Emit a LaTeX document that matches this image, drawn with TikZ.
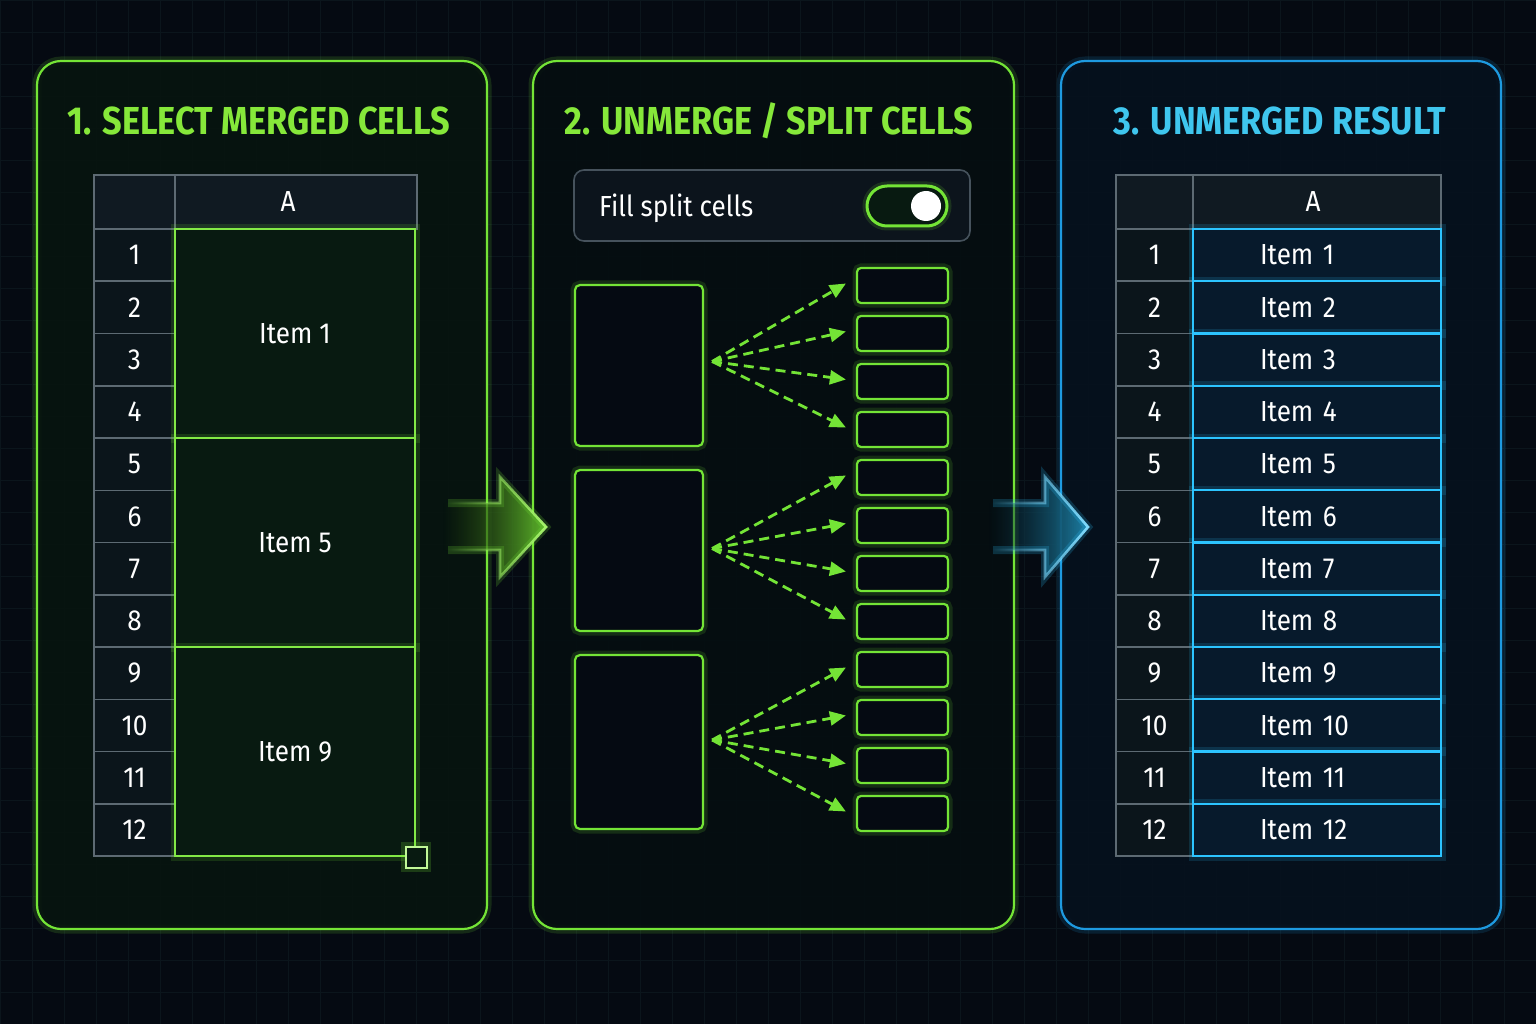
\documentclass[tikz,border=0pt]{standalone}
\usepackage{fontspec}
\setmainfont{Fira Sans}[FakeStretch=0.9]
\newfontfamily\headfont{Fira Sans}[FakeStretch=0.88]
\usetikzlibrary{arrows.meta,fadings}
\definecolor{bgdark}{HTML}{050A12}
\definecolor{gridcol}{HTML}{0B151C}
\definecolor{panelgreen}{HTML}{07140F}
\definecolor{panelmid}{HTML}{050E10}
\definecolor{panelblue}{HTML}{06111E}
\definecolor{limegreen}{HTML}{74E436}
\definecolor{titlegreen}{HTML}{86E83A}
\definecolor{lightlime}{HTML}{A6F56C}
\definecolor{mergefill}{HTML}{081A11}
\definecolor{cyanblue}{HTML}{2CC4FF}
\definecolor{titleblue}{HTML}{3FC6EE}
\definecolor{panelrim}{HTML}{1E9AE0}
\definecolor{resultfill}{HTML}{071A2C}
\definecolor{headfill}{HTML}{101A22}
\definecolor{rowfill}{HTML}{0B151B}
\definecolor{tablegray}{HTML}{5D6A73}
\definecolor{boxgray}{HTML}{46525C}
\newcommand\bodysize{\fontsize{29}{29}\selectfont}
\newcommand\titlesize{\fontsize{39}{39}\selectfont}
\tikzfading[name=fade from left, left color=transparent!100, middle color=transparent!15, right color=transparent!0]

\begin{document}
\begin{tikzpicture}
    [
    x = 1pt, y = -1pt,
    green glow/.style = {draw = limegreen, line width = 2.2pt, preaction = {draw = limegreen, line width = 9pt, opacity = 0.15}},
    blue glow/.style = {draw = cyanblue, line width = 2.2pt, preaction = {draw = cyanblue, line width = 9pt, opacity = 0.15}},
    ]
    \tikzstyle{panel node}=[rectangle,rounded corners=24pt,inner sep=0,fill opacity=0.9]
    \tikzstyle{title node}=[font=\headfont\bfseries\titlesize]
    \tikzstyle{head cell}=[rectangle,draw=tablegray,fill=headfill,line width=1.5pt,inner sep=0,text=white,font=\bodysize]
    \tikzstyle{row cell}=[head cell,fill=rowfill,minimum width=81pt,minimum height=52.25pt]
    \tikzstyle{merged cell}=[rectangle,green glow,draw=limegreen!70!lightlime,line width=2.6pt,fill=mergefill,inner sep=0,text=white,font=\bodysize,minimum width=240pt,minimum height=209pt]
    \tikzstyle{result cell}=[rectangle,blue glow,fill=resultfill,inner sep=0,text=white,font=\bodysize,minimum width=248pt,minimum height=52.25pt,text width=114pt,align=left]
    \tikzstyle{split box}=[rectangle,rounded corners=5pt,green glow,fill=bgdark,minimum width=128pt]
    \tikzstyle{small box}=[rectangle,rounded corners=4pt,green glow,fill=bgdark,minimum width=91pt,minimum height=35pt]
    \tikzstyle{split arrow}=[limegreen,line width=2.8pt,dash pattern=on 10pt off 6pt,-{Triangle[length=16pt,width=14pt]}]

    \useasboundingbox (0,0) rectangle (1536,1024);
    \fill[bgdark] (0,0) rectangle (1536,1024);
    \draw[gridcol,line width=0.5pt] (0,0) grid[step=32pt] (1536,1024);

    % the three panels
    \node[panel node,fill=panelgreen,green glow,minimum width=450pt,minimum height=868pt] (p1) at (262,495) {};
    \node[panel node,fill=panelmid,green glow,minimum width=481pt,minimum height=868pt] (p2) at (773.5,495) {};
    \node[panel node,fill=panelblue,draw=panelrim,line width=2.2pt,preaction={draw=panelrim,line width=9pt,opacity=0.15},minimum width=440pt,minimum height=868pt] (p3) at (1281,495) {};

    \node[title node,text=titlegreen] (t1) at (259,121) {1. SELECT MERGED CELLS};
    \node[title node,text=titlegreen] (t2) at (769,121) {2. UNMERGE / SPLIT CELLS};
    \node[title node,text=titleblue] (t3) at (1280,121) {3. UNMERGED RESULT};

    % step 1: merged table
    \node[head cell,minimum width=81pt,minimum height=54pt] (c1) at (134.5,202) {};
    \node[head cell,minimum width=242pt,minimum height=54pt] (a1) at (296,202) {\hspace*{-16pt}A};
    \foreach \i in {1,...,12}
        \node[row cell] (n\i) at (134.5,{229+52.25*(\i-0.5)}) {\i};
    \node[merged cell] (m1) at (295,333.5) {Item 1};
    \node[merged cell] (m5) at (295,542.5) {Item 5};
    \node[merged cell] (m9) at (295,751.5) {Item 9};
    \node[rectangle,draw=lightlime!70!white,line width=2.4pt,fill=mergefill,minimum size=21pt,inner sep=0,
        preaction={draw=limegreen,line width=9pt,opacity=0.2}] (grip) at (m9.south east) {};

    % step 2: switch and split boxes
    \node[rectangle,rounded corners=10pt,draw=boxgray,line width=1.6pt,fill=headfill!60!bgdark,minimum width=396pt,minimum height=71pt] (fill) at (772,205.5) {};
    \node[anchor=west,text=white,font=\bodysize,inner sep=0] (filltext) at (599,208) {Fill split cells};
    \node[rectangle,rounded corners=20pt,green glow,line width=3pt,fill=mergefill,minimum width=80pt,minimum height=40pt] (switch) at (907,206) {};
    \node[circle,fill=white,minimum size=30pt,inner sep=0] (knob) at (926,206) {};

    \node[split box,minimum height=161pt] (b1) at (639,365.5) {};
    \node[split box,minimum height=161pt] (b2) at (639,550.5) {};
    \node[split box,minimum height=174pt] (b3) at (639,742) {};
    \foreach \k in {1,...,12}
        \node[small box] (s\k) at (902.5,{285.5+48*(\k-1)}) {};

    \coordinate (o1) at ([shift={(8,-4)}]b1.east);
    \coordinate (o2) at ([shift={(8,-2)}]b2.east);
    \coordinate (o3) at ([shift={(8,-2)}]b3.east);
    \foreach \k in {1,...,4}
        \draw[split arrow] (o1) -- ([shift={(-10,-2)}]s\k.west);
    \foreach \k in {5,...,8}
        \draw[split arrow] (o2) -- ([shift={(-10,-2)}]s\k.west);
    \foreach \k in {9,...,12}
        \draw[split arrow] (o3) -- ([shift={(-10,-2)}]s\k.west);

    % block arrows between the panels
    \fill[left color=limegreen!50!black,right color=limegreen!80!black,path fading=fade from left]
        (443,503) -- (500,503) -- (500,477) -- (546,527) -- (500,577) -- (500,550) -- (443,550) -- cycle;
    \draw[lightlime,line width=2.6pt,line join=miter,path fading=fade from left,
        preaction={draw=limegreen,line width=8pt,opacity=0.2}]
        (448,503) -- (500,503) -- (500,477) -- (546,527) -- (500,577) -- (500,550) -- (448,550);
    \fill[left color=cyanblue!40!black,right color=cyanblue!65!black,path fading=fade from left]
        (988,503) -- (1045,503) -- (1045,477) -- (1088,527) -- (1045,577) -- (1045,550) -- (988,550) -- cycle;
    \draw[cyanblue!60!white,line width=2.6pt,line join=miter,path fading=fade from left,
        preaction={draw=cyanblue,line width=8pt,opacity=0.2}]
        (993,503) -- (1045,503) -- (1045,477) -- (1088,527) -- (1045,577) -- (1045,550) -- (993,550);

    % step 3: result table
    \node[head cell,minimum width=77pt,minimum height=54pt] (c3) at (1154.5,202) {};
    \node[head cell,minimum width=248pt,minimum height=54pt] (a3) at (1317,202) {\hspace*{-8pt}A};
    \foreach \i in {1,...,12} {
        \node[row cell,minimum width=77pt] (k\i) at (1154.5,{229+52.25*(\i-0.5)}) {\i};
        \node[result cell] (q\i) at (1317,{229+52.25*(\i-0.5)}) {Item \i};
    }
\end{tikzpicture}
\end{document}
